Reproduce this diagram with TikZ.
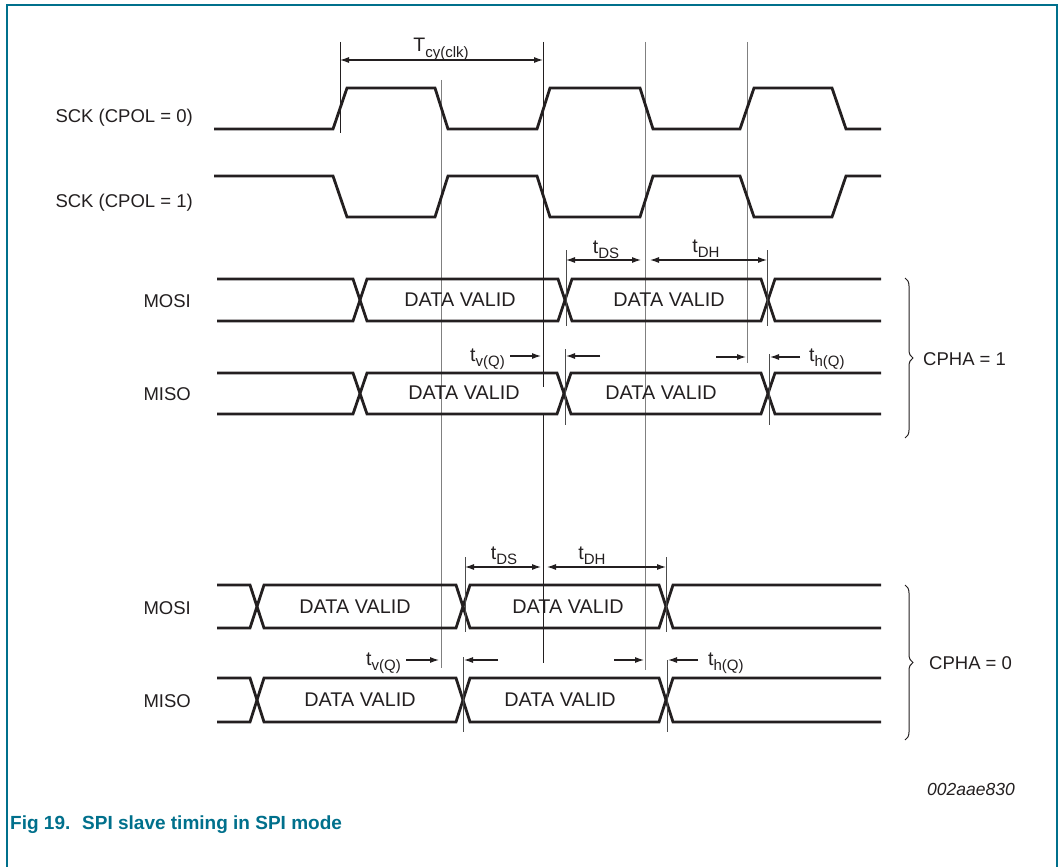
\documentclass[tikz,border=0pt]{standalone}
\usepackage{fontspec}
\setmainfont{Liberation Sans}
\usetikzlibrary{arrows.meta,decorations.pathreplacing}
\definecolor{nxp}{RGB}{0,112,140}
\definecolor{ink}{RGB}{35,31,32}
\newcommand{\sbs}[1]{\raisebox{-0.3em}{\fontsize{15}{15}\selectfont #1}}
\begin{document}
\begin{tikzpicture}[x=1pt,y=-1pt,
  wave/.style={line width=2.8pt, line join=miter, draw=ink},
  guide/.style={line width=1pt, draw=black!50},
  guidek/.style={line width=1pt, draw=ink},
  marker/.style={line width=1pt, draw=black!70},
  tip/.tip={Latex[length=9pt,width=6pt]},
  dimarrow/.style={line width=1.1pt, draw=ink, -tip},
  dimboth/.style={line width=1.1pt, draw=ink, tip-tip},
  lbl/.style={font=\fontsize{18.5}{20}\selectfont, inner sep=0pt, text=ink},
  dv/.style={font=\fontsize{19.8}{21}\selectfont, inner sep=0pt, text=ink},
  tl/.style={font=\fontsize{19.5}{21}\selectfont, inner sep=0pt, text=ink},
  brc/.style={line width=1pt, draw=ink, decorate, decoration={brace, amplitude=8pt}},
]
\useasboundingbox (0,0) rectangle (1063,867);
\fill[white] (0,0) rectangle (1063,867);
% frame
\draw[nxp, line width=1.5pt] (7,867) -- (7,5) -- (1057,5) -- (1057,867);

% ---------- guide lines ----------
\draw[guidek] (340,42) -- (340,133);
\draw[guide]  (441,80) -- (441,668);
\draw[guidek] (543,42) -- (543,387);
\draw[guidek] (543,413) -- (543,663);
\draw[guide]  (645,42) -- (645,670);
\draw[guide]  (747,42) -- (747,363);

% ---------- SCK ----------
\draw[wave] (214,129) -- (333,129) -- (347,88) -- (435,88) -- (448,129) -- (537,129) -- (550,88) -- (640,88) -- (653,129) -- (740,129) -- (754,88) -- (832,88) -- (846,129) -- (881,129);
\draw[wave] (214,176) -- (333,176) -- (347,217) -- (435,217) -- (448,176) -- (537,176) -- (550,217) -- (640,217) -- (653,176) -- (740,176) -- (754,217) -- (832,217) -- (846,176) -- (881,176);

\node[lbl, anchor=base east] (sck0) at (193,122) {SCK (CPOL = 0)};
\node[lbl, anchor=base east] (sck1) at (193,207) {SCK (CPOL = 1)};

% T cy(clk)
\coordinate (tcyA) at (340,60);
\coordinate (tcyB) at (543,60);
\draw[dimboth] (tcyA) -- (tcyB);
\node[tl, anchor=base] (tcy) at (441,52) {T\sbs{cy(clk)}};

% ---------- CPHA = 1 ----------
% MOSI
\draw[wave] (217,279) -- (353,279) -- (367,321) -- (558,321) -- (572,279) -- (761,279) -- (775,321) -- (881,321);
\draw[wave] (217,321) -- (353,321) -- (367,279) -- (558,279) -- (572,321) -- (761,321) -- (775,279) -- (881,279);
% MISO
\draw[wave] (217,373) -- (353,373) -- (367,414) -- (557,414) -- (571,373) -- (761,373) -- (775,414) -- (881,414);
\draw[wave] (217,414) -- (353,414) -- (367,373) -- (557,373) -- (571,414) -- (761,414) -- (775,373) -- (881,373);

\node[lbl, anchor=base east] (mosi1) at (191,307) {MOSI};
\node[lbl, anchor=base east] (miso1) at (191,400) {MISO};
\node[dv] (dv1a) at (460,300) {DATA VALID};
\node[dv] (dv1b) at (669,300) {DATA VALID};
\node[dv] (dv1c) at (464,393) {DATA VALID};
\node[dv] (dv1d) at (661,393) {DATA VALID};

% markers
\draw[marker] (566,250) -- (566,326);
\draw[marker] (767,250) -- (767,326);
\draw[marker] (565,349) -- (565,425);
\draw[marker] (769,354) -- (769,425);

% tDS / tDH
\coordinate (ds1a) at (566,260);
\coordinate (ds1b) at (641,260);
\coordinate (dh1a) at (650,260);
\coordinate (dh1b) at (767,260);
\draw[dimboth] (ds1a) -- (ds1b);
\draw[dimboth] (dh1a) -- (dh1b);
\node[tl, anchor=base] (tds1) at (606,253) {t\sbs{DS}};
\node[tl, anchor=base] (tdh1) at (706,252) {t\sbs{DH}};

% tv(Q) / th(Q)
\coordinate (v1a) at (510,356);
\coordinate (v1b) at (541,356);
\coordinate (v1c) at (600,356);
\coordinate (v1d) at (566,356);
\coordinate (h1a) at (716,357);
\coordinate (h1b) at (746,357);
\coordinate (h1c) at (800,357);
\coordinate (h1d) at (770,357);
\draw[dimarrow] (v1a) -- (v1b);
\draw[dimarrow] (v1c) -- (v1d);
\draw[dimarrow] (h1a) -- (h1b);
\draw[dimarrow] (h1c) -- (h1d);
\node[tl, anchor=base east] (tv1) at (505,361) {t\sbs{v(Q)}};
\node[tl, anchor=base west] (th1) at (809,361) {t\sbs{h(Q)}};

% brace
\draw[brc] (905,278) -- (905,438);
\node[lbl, anchor=west] (cpha1) at (923,359) {CPHA = 1};

% ---------- CPHA = 0 ----------
% MOSI
\draw[wave] (217,585) -- (250,585) -- (264,628) -- (456,628) -- (470,585) -- (659,585) -- (673,628) -- (881,628);
\draw[wave] (217,628) -- (250,628) -- (264,585) -- (456,585) -- (470,628) -- (659,628) -- (673,585) -- (881,585);
% MISO
\draw[wave] (217,678) -- (250,678) -- (264,722) -- (456,722) -- (470,678) -- (659,678) -- (673,722) -- (881,722);
\draw[wave] (217,722) -- (250,722) -- (264,678) -- (456,678) -- (470,722) -- (659,722) -- (673,678) -- (881,678);

\node[lbl, anchor=base east] (mosi0) at (191,614) {MOSI};
\node[lbl, anchor=base east] (miso0) at (191,707) {MISO};
\node[dv] (dv0a) at (355,607) {DATA VALID};
\node[dv] (dv0b) at (568,607) {DATA VALID};
\node[dv] (dv0c) at (360,700) {DATA VALID};
\node[dv] (dv0d) at (560,700) {DATA VALID};

% markers
\draw[marker] (465,557) -- (465,632);
\draw[marker] (666,557) -- (666,632);
\draw[marker] (463,657) -- (463,732);
\draw[marker] (667,660) -- (667,732);

% tDS / tDH
\coordinate (ds0a) at (465,567);
\coordinate (ds0b) at (541,567);
\coordinate (dh0a) at (547,567);
\coordinate (dh0b) at (666,567);
\draw[dimboth] (ds0a) -- (ds0b);
\draw[dimboth] (dh0a) -- (dh0b);
\node[tl, anchor=base] (tds0) at (504,559) {t\sbs{DS}};
\node[tl, anchor=base] (tdh0) at (592,559) {t\sbs{DH}};

% tv(Q) / th(Q)
\coordinate (v0a) at (406,660);
\coordinate (v0b) at (439,660);
\coordinate (v0c) at (498,660);
\coordinate (v0d) at (464,660);
\coordinate (h0a) at (614,660);
\coordinate (h0b) at (644,660);
\coordinate (h0c) at (698,660);
\coordinate (h0d) at (668,660);
\draw[dimarrow] (v0a) -- (v0b);
\draw[dimarrow] (v0c) -- (v0d);
\draw[dimarrow] (h0a) -- (h0b);
\draw[dimarrow] (h0c) -- (h0d);
\node[tl, anchor=base east] (tv0) at (401,665) {t\sbs{v(Q)}};
\node[tl, anchor=base west] (th0) at (708,665) {t\sbs{h(Q)}};

% brace
\draw[brc] (905,585) -- (905,740);
\node[lbl, anchor=west] (cpha0) at (929,663) {CPHA = 0};

% ---------- footer ----------
\node[lbl, anchor=base east, font=\itshape\fontsize{17.5}{19}\selectfont] (code) at (1015,795) {002aae830};
\node[anchor=base west, inner sep=0pt, text=nxp, font=\bfseries\fontsize{19}{21}\selectfont] (fig) at (10,829) {Fig 19.};
\node[anchor=base west, inner sep=0pt, text=nxp, font=\bfseries\fontsize{19}{21}\selectfont] (cap) at (82,829) {SPI slave timing in SPI mode};
\end{tikzpicture}
\end{document}
